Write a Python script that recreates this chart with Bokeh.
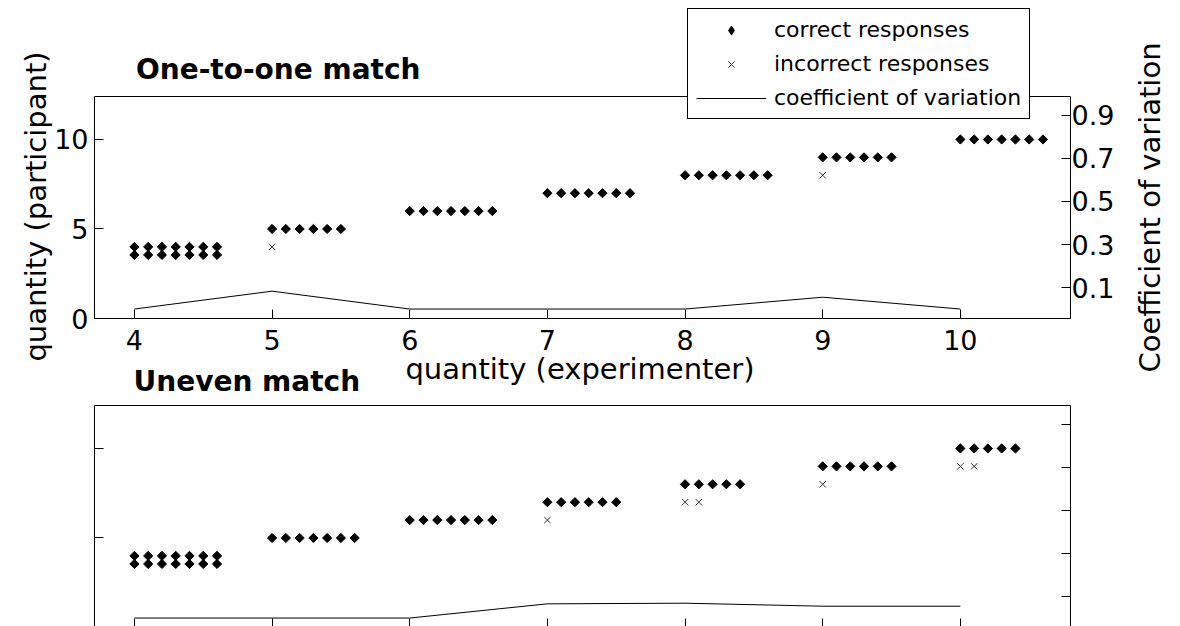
import math
from bokeh.plotting import figure
from bokeh.models import (Range1d, LinearAxis, FixedTicker, Label, Legend,
                          LegendItem, BoxAnnotation)
from bokeh.embed import file_html
from bokeh.resources import INLINE

# ---------------- data ----------------
quantities = [4, 5, 6, 7, 8, 9, 10]
x_ticks = [4, 5, 6, 7, 8, 9, 10]
y_ticks = [0, 5, 10]
y_tick_labels = ["0", "5", "10"]
cv_ticks = [0.1, 0.3, 0.5, 0.7, 0.9]
cv_tick_labels = ["0.1", "0.3", "0.5", "0.7", "0.9"]

# One-to-one match
one_correct_q = [4, 4, 5, 6, 7, 8, 9, 10]
one_correct_resp = [4.0, 3.55, 5, 6, 7, 8, 9, 10]
one_correct_n = [7, 7, 6, 7, 7, 7, 6, 7]
one_wrong_q = [5, 9]
one_wrong_resp = [4, 8]
one_wrong_n = [1, 1]
one_cv = [0.0, 0.083, 0.0, 0.0, 0.0, 0.055, 0.0]

# Uneven match
uneven_correct_q = [4, 4, 5, 6, 7, 8, 9, 10]
uneven_correct_resp = [4.0, 3.55, 5, 6, 7, 8, 9, 10]
uneven_correct_n = [7, 7, 7, 7, 6, 5, 6, 5]
uneven_wrong_q = [7, 8, 9, 10]
uneven_wrong_resp = [6, 7, 8, 9]
uneven_wrong_n = [1, 2, 1, 2]
uneven_cv = [0.0, 0.0, 0.0, 0.066, 0.069, 0.055, 0.055]

# ---------------- layout / style ----------------
W, H = 1180, 626
FONT = "DejaVu Sans"
JITTER = 0.1                  # horizontal display step between repeated responses
X_LIM = (3.71, 10.8)          # panel x limits
Y_LIM = (0, 12.4)             # panel y limits (participant quantity)
CV_LIM = (-0.044, 0.988)      # panel limits of the coefficient-of-variation axis
PANEL_L, PANEL_R = 94, 1070   # panel pixel edges
TOP_T, TOP_B = 96, 318
BOT_T, BOT_B = 405, 627
BASE_SHIFT = 9                # Bokeh places alphabetic baselines a little low


def xext(lo, hi, p_lo, p_hi, total):
    s = (p_hi - p_lo) / (hi - lo)
    return lo - p_lo / s, hi + (total - p_hi) / s


def yext(lo, hi, p_lo, p_hi, total):
    s = (p_lo - p_hi) / (hi - lo)
    return lo - (total - p_lo) / s, hi + p_hi / s


XR = xext(*X_LIM, PANEL_L, PANEL_R, W)
YR_TOP = yext(*Y_LIM, TOP_B, TOP_T, H)
YR_BOT = yext(*Y_LIM, BOT_B, BOT_T, H)
CV_TOP = yext(*CV_LIM, TOP_B, TOP_T, H)
CV_BOT = yext(*CV_LIM, BOT_B, BOT_T, H)


def px_x(px):
    return XR[0] + px * (XR[1] - XR[0]) / W


def px_y(py):
    return YR_TOP[1] - py * (YR_TOP[1] - YR_TOP[0]) / H


def expand(qs, resps, counts):
    xs, ys = [], []
    for q, r, n in zip(qs, resps, counts):
        for k in range(n):
            xs.append(q + k * JITTER)
            ys.append(r)
    return xs, ys


p = figure(width=W, height=H, x_range=Range1d(*XR), y_range=Range1d(*YR_TOP),
           output_backend="svg", toolbar_location=None,
           x_axis_location=None, y_axis_location=None, min_border=0)
p.extra_y_ranges = {"bottom": Range1d(*YR_BOT), "cv_top": Range1d(*CV_TOP),
                    "cv_bot": Range1d(*CV_BOT)}
p.grid.visible = False
p.outline_line_color = None
p.background_fill_color = "white"
p.border_fill_color = "white"


def add_axis(side, ticks, loc, y_range_name="default", labels=None, standoff=8):
    ax = LinearAxis(ticker=FixedTicker(ticks=ticks), fixed_location=loc,
                    y_range_name=y_range_name)
    ax.axis_line_color = None
    ax.major_tick_line_color = "black"
    ax.major_tick_line_width = 1
    ax.major_tick_in = 9
    ax.major_tick_out = 0
    ax.minor_tick_line_color = None
    ax.major_label_text_font = FONT
    ax.major_label_text_font_size = "27px"
    ax.major_label_text_color = "black"
    ax.major_label_standoff = standoff
    if labels is None:
        ax.major_label_overrides = {t: "" for t in ticks}
    else:
        ax.major_label_overrides = {t: s for t, s in zip(ticks, labels)}
    p.add_layout(ax, side)
    return ax


# top panel axes
add_axis("below", x_ticks, Y_LIM[0], labels=[str(t) for t in x_ticks], standoff=11)
add_axis("left", y_ticks, X_LIM[0], labels=y_tick_labels, standoff=6)
add_axis("right", cv_ticks, X_LIM[1], y_range_name="cv_top", labels=cv_tick_labels, standoff=1)
# bottom panel axes (tick labels not shown in the reference)
add_axis("below", x_ticks, Y_LIM[0], y_range_name="bottom")
add_axis("left", y_ticks, X_LIM[0], y_range_name="bottom")
add_axis("right", cv_ticks, X_LIM[1], y_range_name="cv_bot")

# panel frames
for yname in ("default", "bottom"):
    p.add_layout(BoxAnnotation(left=X_LIM[0], right=X_LIM[1], bottom=Y_LIM[0], top=Y_LIM[1],
                               y_range_name=yname, fill_color=None, fill_alpha=0,
                               line_color="black", line_width=1, line_alpha=1))


def draw(cq, cr, cn, wq, wr, wn, cv, yname, cvname):
    cx, cy = expand(cq, cr, cn)
    wx, wy = expand(wq, wr, wn)
    # legend key glyph (the legend draws markers unrotated); hidden under the diamonds
    rk = p.scatter(cx, cy, marker="diamond", size=1, fill_color="black",
                   line_color="black", y_range_name=yname)
    p.scatter(cx, cy, marker="square", angle=math.pi / 4, size=6.5,
              fill_color="black", line_color="black", y_range_name=yname)
    rw = p.scatter(wx, wy, marker="x", size=9, line_color="#333333", line_width=1,
                   y_range_name=yname)
    rl = p.line(quantities, cv, y_range_name=cvname, line_color="black", line_width=1)
    return rk, rw, rl


rk, rw, rl = draw(one_correct_q, one_correct_resp, one_correct_n,
                  one_wrong_q, one_wrong_resp, one_wrong_n, one_cv, "default", "cv_top")
draw(uneven_correct_q, uneven_correct_resp, uneven_correct_n,
     uneven_wrong_q, uneven_wrong_resp, uneven_wrong_n, uneven_cv, "bottom", "cv_bot")

legend = Legend(items=[LegendItem(label="correct responses", renderers=[rk]),
                       LegendItem(label="incorrect responses", renderers=[rw]),
                       LegendItem(label="coefficient of variation", renderers=[rl])],
                location=(687, H - 119))
legend.border_line_color = "black"
legend.border_line_width = 1
legend.border_line_alpha = 1
legend.background_fill_color = "white"
legend.background_fill_alpha = 1
legend.label_text_font = FONT
legend.label_text_font_size = "22px"
legend.label_text_color = "black"
legend.glyph_width = 70
legend.glyph_height = 22
legend.label_height = 22
legend.label_standoff = 8
legend.spacing = 9
legend.padding = 8
legend.margin = 0
p.add_layout(legend)

texts = [
    dict(x=px_x(135.5), y=px_y(78 - BASE_SHIFT), text="One-to-one match",
         text_font_style="bold", text_font_size="28px", text_align="left",
         text_baseline="alphabetic"),
    dict(x=px_x(133), y=px_y(390 - BASE_SHIFT), text="Uneven match",
         text_font_style="bold", text_font_size="28px", text_align="left",
         text_baseline="alphabetic"),
    dict(x=px_x(579.5), y=px_y(377 - BASE_SHIFT), text="quantity (experimenter)",
         text_font_size="29px", text_align="center", text_baseline="alphabetic"),
    dict(x=px_x(35), y=px_y(206), text="quantity (participant)", angle=math.pi / 2,
         text_font_size="29px", text_align="center", text_baseline="middle"),
    dict(x=px_x(1149), y=px_y(207), text="Coefficient of variation", angle=math.pi / 2,
         text_font_size="29px", text_align="center", text_baseline="middle"),
]
for t in texts:
    p.add_layout(Label(text_font=FONT, text_color="black", **t))

open("out.html", "w").write(file_html(p, INLINE))
